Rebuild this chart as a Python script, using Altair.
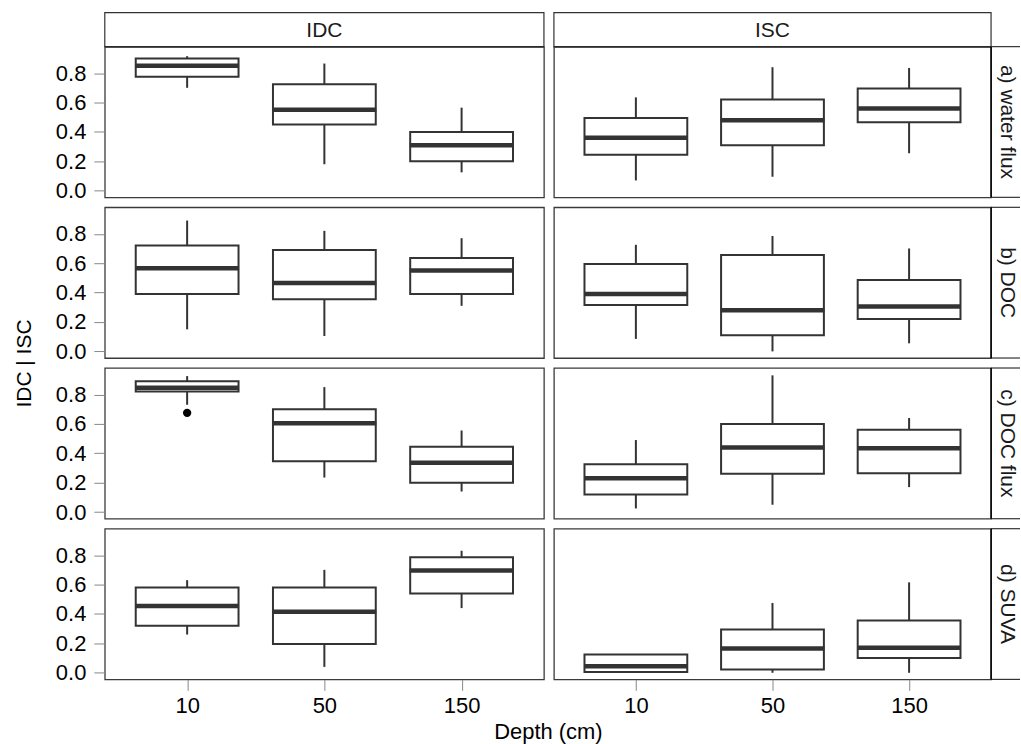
import altair as alt
import pandas as pd

FONT = "Liberation Sans"
INK = "#333333"

depths = ["10", "50", "150"]
cols = ["IDC", "ISC"]
rows = ["a) water flux", "b) DOC", "c) DOC flux", "d) SUVA"]

# each entry: [lower whisker, Q1, median, Q3, upper whisker] for depth 10, 50, 150
idc_water = [[0.70, 0.775, 0.85, 0.90, 0.915], [0.18, 0.45, 0.55, 0.725, 0.865], [0.125, 0.20, 0.31, 0.40, 0.565]]
isc_water = [[0.07, 0.245, 0.36, 0.495, 0.635], [0.095, 0.31, 0.48, 0.62, 0.84], [0.255, 0.465, 0.56, 0.695, 0.835]]
idc_doc = [[0.15, 0.39, 0.565, 0.72, 0.89], [0.105, 0.355, 0.465, 0.69, 0.82], [0.31, 0.39, 0.55, 0.635, 0.77]]
isc_doc = [[0.085, 0.315, 0.39, 0.595, 0.725], [0.0, 0.11, 0.28, 0.655, 0.785], [0.055, 0.22, 0.305, 0.485, 0.70]]
idc_docflux = [[0.73, 0.82, 0.845, 0.89, 0.925], [0.235, 0.345, 0.605, 0.70, 0.85], [0.14, 0.20, 0.335, 0.445, 0.555]]
isc_docflux = [[0.025, 0.12, 0.23, 0.325, 0.49], [0.05, 0.26, 0.44, 0.60, 0.93], [0.17, 0.265, 0.435, 0.56, 0.64]]
idc_suva = [[0.26, 0.32, 0.455, 0.58, 0.63], [0.04, 0.195, 0.415, 0.58, 0.70], [0.44, 0.54, 0.695, 0.785, 0.83]]
isc_suva = [[0.0, 0.005, 0.045, 0.125, 0.125], [0.0, 0.023, 0.165, 0.295, 0.475], [0.0, 0.10, 0.17, 0.355, 0.615]]

outlier_col = ["IDC"]
outlier_row = ["c) DOC flux"]
outlier_depth = ["10"]
outlier_value = [0.675]

panels = {
    ("IDC", rows[0]): idc_water, ("ISC", rows[0]): isc_water,
    ("IDC", rows[1]): idc_doc, ("ISC", rows[1]): isc_doc,
    ("IDC", rows[2]): idc_docflux, ("ISC", rows[2]): isc_docflux,
    ("IDC", rows[3]): idc_suva, ("ISC", rows[3]): isc_suva,
}
recs = []
for (c, r), stats in panels.items():
    for d, s in zip(depths, stats):
        recs.append(dict(col=c, row=r, depth=d, lo=s[0], q1=s[1], med=s[2], q3=s[3], hi=s[4]))
df = pd.DataFrame(recs)
out_df = pd.DataFrame(dict(col=outlier_col, row=outlier_row, depth=outlier_depth, value=outlier_value))

PW_L, PW_R, PH = 440, 438, 151
GAP = 10
SW = 29            # drawn width of right strip
SW_CELL = SW - GAP  # layout width of the strip column
STH = 34           # drawn height of top strip
STH_CELL = STH - GAP
YDOM = [-0.045, 0.98]


def panel(col, row, width):
    first_col = col == "IDC"
    last_row = row == rows[-1]
    d = df[(df.col == col) & (df.row == row)]
    xaxis_kw = dict(labelAngle=0, tickSize=11, labelPadding=5, domain=False, grid=False,
                    labelFontSize=22, title=None)
    if last_row and first_col:
        xaxis_kw.update(title="Depth (cm)", titleX=444, titleY=59, titleBaseline="alphabetic",
                        titleAlign="center", titleFontSize=22, titleFontWeight="normal")
    xaxis = alt.Axis(**xaxis_kw) if last_row else None
    yaxis_kw = dict(values=[0, 0.2, 0.4, 0.6, 0.8], format=".1f", tickSize=11, labelPadding=8,
                    domain=False, grid=False, labelFontSize=22, title=None)
    if first_col and row == rows[1]:
        yaxis_kw.update(title="IDC | ISC", titleX=-80, titleY=156, titleAngle=270,
                        titleBaseline="middle", titleAlign="center", titleFontSize=21,
                        titleFontWeight="normal")
    yaxis = alt.Axis(**yaxis_kw) if first_col else None
    xs = alt.Scale(type="point", padding=0.6, domain=depths)
    ys = alt.Scale(domain=YDOM, nice=False, zero=False)
    x = alt.X("depth:O", sort=depths, scale=xs, axis=xaxis)
    base = alt.Chart(d)
    whisk = base.mark_rule(color=INK, strokeWidth=2).encode(
        x=x, y=alt.Y("lo:Q", scale=ys, axis=yaxis), y2="hi:Q")
    box = base.mark_bar(size=103, fill="white", stroke=INK, strokeWidth=2).encode(
        x=x, y=alt.Y("q1:Q", scale=ys, axis=yaxis), y2="q3:Q")
    med = base.mark_tick(size=104, thickness=4.5, color=INK, opacity=1).encode(
        x=x, y=alt.Y("med:Q", scale=ys, axis=yaxis))
    layers = [whisk, box, med]
    o = out_df[(out_df.col == col) & (out_df.row == row)]
    if len(o):
        pts = alt.Chart(o).mark_circle(size=70, color="black", opacity=1).encode(
            x=x, y=alt.Y("value:Q", scale=ys, axis=yaxis))
        layers.append(pts)
    return alt.layer(*layers).properties(
        width=width, height=PH,
        view=alt.ViewBackground(stroke="#3a3a3a", strokeWidth=1.3, strokeOpacity=1))


def top_strip(label, width):
    d = pd.DataFrame({"label": [label]})
    rect = alt.Chart(d).mark_rect(fill="white", stroke=INK, strokeWidth=1.2).encode(
        x=alt.value(0), x2=alt.value(width), y=alt.value(0), y2=alt.value(STH))
    bottom = alt.Chart(d).mark_rule(color="black", strokeWidth=1.5).encode(
        x=alt.value(0), x2=alt.value(width), y=alt.value(STH))
    txt = alt.Chart(d).mark_text(font=FONT, fontSize=21, color="#1a1a1a", baseline="middle").encode(
        x=alt.value(width / 2), y=alt.value(STH / 2 + 1), text="label:N")
    return alt.layer(rect, bottom, txt).properties(
        width=width, height=STH_CELL, view=alt.ViewBackground(strokeOpacity=0))


def right_strip(label):
    d = pd.DataFrame({"label": [label]})
    x0 = -GAP
    top = alt.Chart(d).mark_rule(color=INK, strokeWidth=1.2).encode(
        x=alt.value(x0), x2=alt.value(SW_CELL), y=alt.value(0))
    bot = alt.Chart(d).mark_rule(color=INK, strokeWidth=1.2).encode(
        x=alt.value(x0), x2=alt.value(SW_CELL), y=alt.value(PH))
    left = alt.Chart(d).mark_rule(color="black", strokeWidth=1.5).encode(
        x=alt.value(x0), y=alt.value(0), y2=alt.value(PH))
    txt = alt.Chart(d).mark_text(font=FONT, fontSize=21, color="#1a1a1a", angle=90,
                                 baseline="middle").encode(
        x=alt.value(x0 + 16), y=alt.value(PH / 2), text="label:N")
    return alt.layer(top, bot, left, txt).properties(
        width=SW_CELL, height=PH, view=alt.ViewBackground(strokeOpacity=0))


def blank():
    d = pd.DataFrame({"label": [""]})
    return alt.Chart(d).mark_rule(strokeOpacity=0).encode(
        x=alt.value(0), y=alt.value(0)).properties(
        width=SW_CELL, height=STH_CELL, view=alt.ViewBackground(strokeOpacity=0))


cells = [top_strip("IDC", PW_L), top_strip("ISC", PW_R), blank()]
for r in rows:
    cells += [panel("IDC", r, PW_L), panel("ISC", r, PW_R), right_strip(r)]

chart = alt.concat(*cells, columns=3, spacing=GAP, bounds="flush").properties(
    padding={"left": 13, "top": 11, "right": 0, "bottom": 0}
).configure_axis(
    labelFont=FONT, titleFont=FONT, labelColor="#1a1a1a", titleColor="#1a1a1a",
    tickColor="#555555", tickWidth=1.5
).configure(background="white")

chart.save("out.html", embed_options={"renderer": "svg", "actions": False})
